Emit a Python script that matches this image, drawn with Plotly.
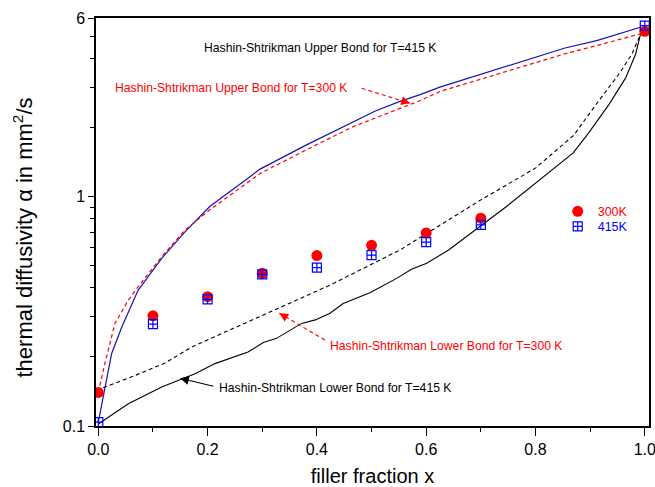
import plotly.graph_objects as go

# ---------------- data ----------------
frac = [0.0, 0.1, 0.2, 0.3, 0.4, 0.5, 0.6, 0.7, 1.0]
alpha_300K = [0.14, 0.302, 0.366, 0.463, 0.553, 0.613, 0.694, 0.805, 5.25]
alpha_415K = [0.104, 0.278, 0.356, 0.458, 0.49, 0.556, 0.633, 0.752, 5.56]

hs_up_415_x = [0.0, 0.0245, 0.043, 0.073, 0.116, 0.159, 0.204, 0.296, 0.381, 0.424,
               0.467, 0.507, 0.552, 0.589, 0.625, 0.79, 0.854, 0.912, 0.992]
hs_up_415_y = [0.104, 0.207, 0.27, 0.391, 0.538, 0.703, 0.905, 1.317, 1.68, 1.89,
               2.13, 2.36, 2.60, 2.78, 3.0, 3.98, 4.44, 4.78, 5.47]

hs_up_300_x = [0.0, 0.012, 0.0305, 0.055, 0.073, 0.116, 0.159, 0.204, 0.296, 0.381,
               0.467, 0.57, 0.589, 0.625, 0.79, 0.854, 0.912, 0.992]
hs_up_300_y = [0.14, 0.187, 0.28, 0.354, 0.405, 0.547, 0.716, 0.875, 1.26, 1.60,
               2.02, 2.52, 2.62, 2.87, 3.79, 4.19, 4.55, 5.12]

hs_lo_300_x = [0.0, 0.006, 0.067, 0.122, 0.171, 0.2135, 0.323, 0.424, 0.552, 0.6,
               0.7, 0.8, 0.87, 0.915, 0.952, 0.976, 0.992]
hs_lo_300_y = [0.14, 0.146, 0.166, 0.188, 0.221, 0.245, 0.32, 0.411, 0.585, 0.687,
               0.967, 1.33, 1.85, 2.60, 3.40, 4.16, 5.08]

hs_lo_415_x = [0.0, 0.055, 0.116, 0.177, 0.2135, 0.274, 0.302, 0.326, 0.372, 0.397,
               0.424, 0.448, 0.497, 0.546, 0.573, 0.601, 0.641, 0.747, 0.869, 0.897,
               0.934, 0.965, 0.983, 0.992]
hs_lo_415_y = [0.102, 0.125, 0.148, 0.169, 0.187, 0.21, 0.231, 0.241, 0.28, 0.29,
               0.31, 0.342, 0.381, 0.44, 0.482, 0.512, 0.585, 0.905, 1.55, 1.89,
               2.51, 3.29, 4.16, 5.08]

x_ticks = [0.0, 0.2, 0.4, 0.6, 0.8, 1.0]
x_minor = [0.1, 0.3, 0.5, 0.7, 0.9]
y_ticks = [0.1, 1, 6]
y_ticktext = ["0.1", "1", "6"]
y_minor = [0.2, 0.3, 0.4, 0.5, 0.6, 0.7, 0.8, 0.9, 2, 3, 4, 5]

# ---------------- layout constants ----------------
W, H = 655, 487
ML, MR, MT, MB = 96, 6, 18, 61
PW, PH = W - ML - MR, H - MT - MB
FONT = "Liberation Sans, Arial, sans-serif"


def px(x):
    return (x - ML) / PW


def py(y):
    return (H - MB - y) / PH


fig = go.Figure()

fig.add_trace(go.Scatter(x=hs_up_415_x, y=hs_up_415_y, mode="lines",
                         line=dict(color="#1414b4", width=1.2), showlegend=False))
fig.add_trace(go.Scatter(x=hs_up_300_x, y=hs_up_300_y, mode="lines",
                         line=dict(color="#ff0000", width=1.2, dash="4px,3px"), showlegend=False))
fig.add_trace(go.Scatter(x=hs_lo_300_x, y=hs_lo_300_y, mode="lines",
                         line=dict(color="#000000", width=1.1, dash="4px,3px"), showlegend=False))
fig.add_trace(go.Scatter(x=hs_lo_415_x, y=hs_lo_415_y, mode="lines",
                         line=dict(color="#000000", width=1.1), showlegend=False))

fig.add_trace(go.Scatter(x=frac, y=alpha_300K, mode="markers", name="300K",
                         marker=dict(symbol="circle", size=11, color="#ff0000"),
                         legend="legend"))
fig.add_trace(go.Scatter(x=frac, y=alpha_415K, mode="markers", name="415K",
                         marker=dict(symbol="square-cross-open", size=9, color="#0000ff",
                                     line=dict(width=1.2, color="#0000ff")),
                         legend="legend2"))

annotations = []
shapes = []


def label(text, x, y, color):
    annotations.append(dict(text=text, x=px(x), y=py(y), xref="paper", yref="paper",
                            xanchor="left", yanchor="middle", showarrow=False,
                            font=dict(family=FONT, size=12.2, color=color)))


label("Hashin-Shtrikman Upper Bond for T=415 K", 201.5, 48.3, "#000000")
label("Hashin-Shtrikman Upper Bond for T=300 K", 113, 87.7, "#ff0000")
label("Hashin-Shtrikman Lower Bond for T=300 K", 328, 345.7, "#ff0000")
label("Hashin-Shtrikman Lower Bond for T=415 K", 217, 388.3, "#000000")

# y-axis title placed as rotated text
annotations.append(dict(text="thermal diffusivity α in mm<sup>2</sup>/s",
                        x=px(22.5), y=py(238), xref="paper", yref="paper",
                        xanchor="center", yanchor="middle", textangle=-90,
                        showarrow=False,
                        font=dict(family=FONT, size=22, color="black")))


def arrow(tail, head, color, dashed):
    tx, ty = tail
    hx, hy = head
    if dashed:
        shapes.append(dict(type="line", xref="paper", yref="paper",
                           x0=px(tx), y0=py(ty), x1=px(hx), y1=py(hy),
                           line=dict(color=color, width=1.1, dash="4px,3px")))
        L = ((tx - hx) ** 2 + (ty - hy) ** 2) ** 0.5
        f = 9 / L
        ax, ay = (tx - hx) * f, (ty - hy) * f
    else:
        ax, ay = tx - hx, ty - hy
    annotations.append(dict(text="", x=px(hx), y=py(hy), xref="paper", yref="paper",
                            ax=ax, ay=ay, showarrow=True, arrowhead=2, arrowsize=1.6,
                            arrowwidth=1.1, arrowcolor=color, standoff=0))


arrow((361.7, 88.3), (410, 103.3), "#ff0000", True)
arrow((325, 340), (279.3, 313.3), "#ff0000", True)
arrow((215, 386.7), (180, 378.3), "#000000", False)

axis_common = dict(showline=True, linecolor="black", linewidth=1.5, mirror=True,
                   ticks="outside", tickcolor="black", tickwidth=1.3,
                   showgrid=False, zeroline=False, automargin=False,
                   ticklabeloverflow="allow",
                   tickfont=dict(family=FONT, size=16, color="black"))

fig.update_layout(
    width=W, height=H,
    margin=dict(l=ML, r=MR, t=MT, b=MB, autoexpand=False),
    paper_bgcolor="white", plot_bgcolor="white",
    font=dict(family=FONT, color="black"),
    xaxis=dict(**axis_common, range=[-0.0042, 1.0077], tickvals=x_ticks,
               tickformat=".1f", ticklen=8,
               minor=dict(tickvals=x_minor, ticks="outside", ticklen=4,
                          tickcolor="black", tickwidth=1.3),
               title=dict(text="filler fraction x",
                          font=dict(family=FONT, size=20, color="black"), standoff=16)),
    yaxis=dict(**axis_common, type="log", range=[-1, 0.77815], tickvals=y_ticks,
               ticktext=y_ticktext, ticklen=6,
               minor=dict(tickvals=y_minor, ticks="outside", ticklen=4,
                          tickcolor="black", tickwidth=1.3)),
    legend=dict(x=px(557.7), y=py(211.7), xanchor="left", yanchor="middle",
                bgcolor="rgba(0,0,0,0)", borderwidth=0,
                font=dict(family=FONT, size=12.5, color="#ff0000")),
    legend2=dict(x=px(557.7), y=py(226.7), xanchor="left", yanchor="middle",
                 bgcolor="rgba(0,0,0,0)", borderwidth=0,
                 font=dict(family=FONT, size=12.5, color="#0000ff")),
    annotations=annotations,
    shapes=shapes,
)

fig.write_html("out.html", config={"displayModeBar": False},
               post_script="document.body.style.margin='0px';document.body.style.overflow='hidden';")
